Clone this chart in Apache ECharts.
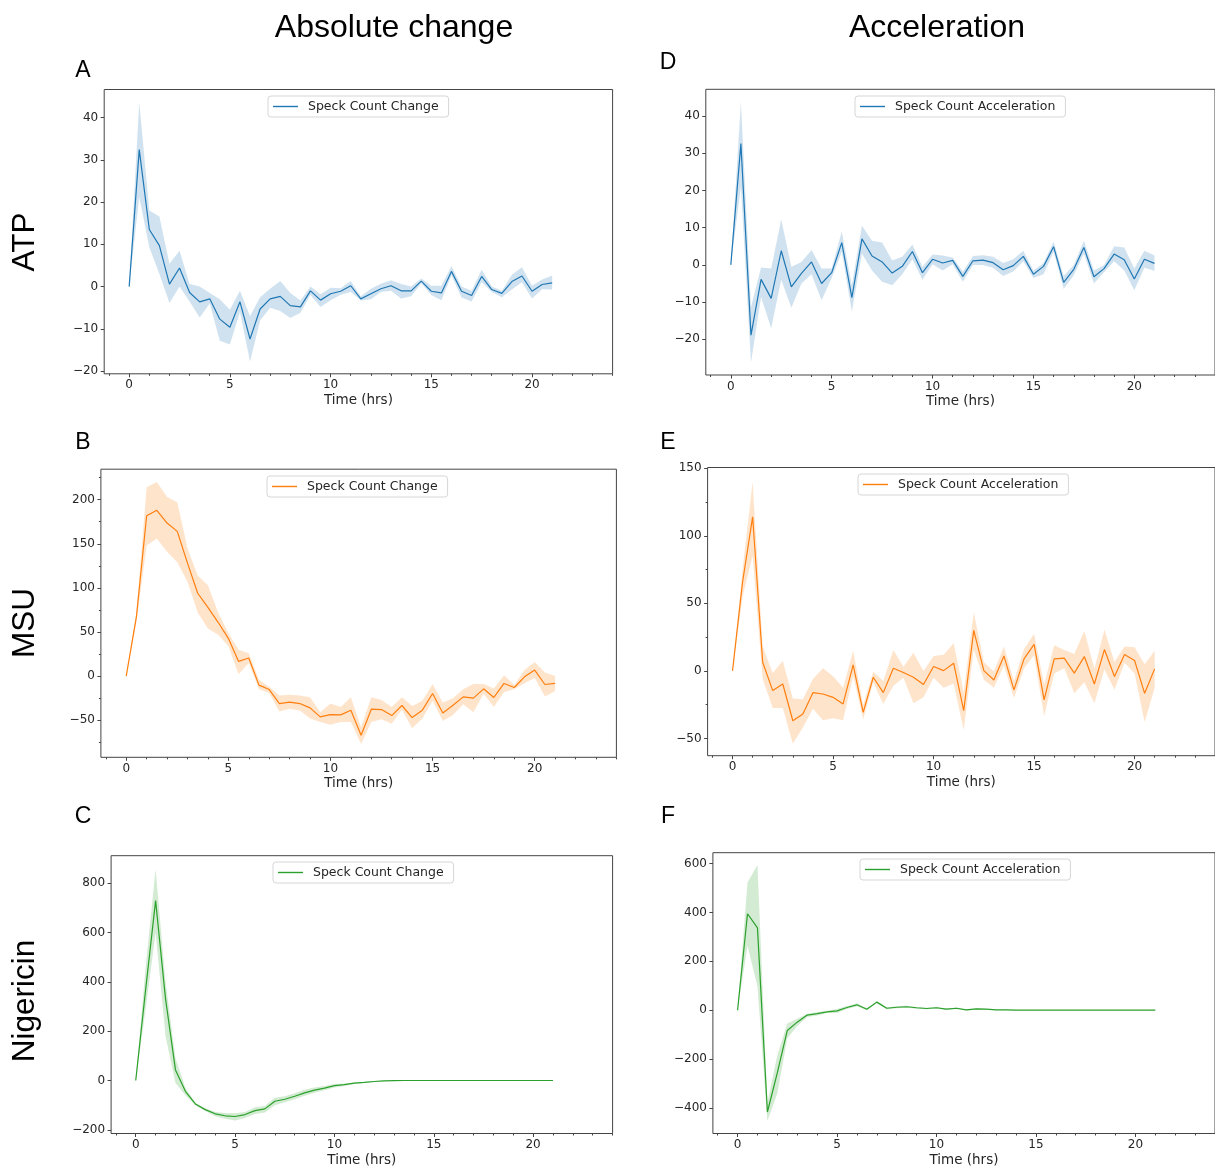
<!DOCTYPE html>
<html>
<head>
<meta charset="utf-8">
<script src="https://cdn.jsdelivr.net/npm/echarts@6/dist/echarts.min.js"></script>
<style>
  html, body { margin: 0; padding: 0; background: #fff; }
  #chart { width: 1215px; height: 1168px; }
</style>
</head>
<body>
<div id="chart"></div>
<script>
// time points (hrs)
const hours = [0, 0.5, 1, 1.5, 2, 2.5, 3, 3.5, 4, 4.5, 5, 5.5, 6, 6.5, 7, 7.5, 8, 8.5, 9, 9.5, 10,
  10.5, 11, 11.5, 12, 12.5, 13, 13.5, 14, 14.5, 15, 15.5, 16, 16.5, 17, 17.5, 18, 18.5, 19, 19.5, 20, 20.5, 21]

// A - ATP, absolute change
const atpChange = [0, 32.4, 13.5, 9.7, 0.6, 4.4, -1.4, -3.6, -2.9, -7.7, -9.6, -3.6, -12.4, -5.3, -2.9, -2.3, -4.5, -4.8, -1.0, -3.2, -1.7,
  -1.1, 0.2, -2.9, -1.7, -0.5, 0.2, -1.0, -1.0, 1.3, -1.1, -1.5, 3.6, -1.1, -2.1, 2.4, -0.7, -1.6, 1.2, 2.5, -1.1, 0.5, 0.9]
const atpChangeUpper = [0, 43.6, 18.0, 16.6, 5.4, 8.5, 0.6, 0.0, -1.5, -3.0, -5.5, -1.0, -7.0, -2.5, -0.5, 1.3, -1.5, -3.3, 0.0, -1.8, -0.3,
  -0.4, 1.3, -2.3, -0.5, 0.7, 1.5, 0.6, 0.0, 1.9, 0.2, 0.2, 4.8, 0.0, -1.0, 4.0, 0.0, -1.0, 2.8, 4.6, 0.2, 1.7, 2.6]
const atpChangeLower = [0, 21.2, 9.3, 3.0, -3.9, 0.0, -3.5, -7.3, -4.0, -12.8, -13.7, -6.0, -17.7, -8.0, -5.0, -5.8, -7.4, -6.2, -2.0, -4.8, -3.2,
  -1.9, -1.3, -3.3, -3.0, -1.3, -1.0, -2.8, -2.3, 0.8, -2.0, -3.2, 2.6, -2.6, -3.5, 1.0, -1.3, -2.5, -0.7, 1.0, -2.8, -0.6, -0.7]

// D - ATP, acceleration
const atpAccel = [0, 32.6, -18.9, -3.9, -9.0, 3.8, -5.9, -2.3, 0.8, -5.0, -2.1, 6.0, -8.8, 7.0, 2.4, 0.8, -2.2, -0.4, 3.6, -2.1, 1.5,
  0.5, 1.2, -3.1, 1.1, 1.3, 0.6, -1.3, -0.2, 2.3, -2.5, -0.4, 4.9, -4.7, -1.2, 4.7, -3.2, -1.0, 2.9, 1.4, -3.8, 1.5, 0.4]
const atpAccelUpper = [0, 43.8, -11.3, -0.7, -1.0, 12.2, -0.5, 0.8, 4.0, -1.0, -1.0, 9.0, -5.5, 10.5, 6.5, 6.0, 1.2, 2.2, 5.5, -0.5, 2.8,
  2.5, 2.0, -1.8, 2.4, 2.6, 2.2, 0.5, 1.5, 3.8, -1.5, 0.5, 6.2, -3.0, 0.0, 6.5, -1.5, 0.0, 5.0, 4.7, -1.0, 3.8, 2.5]
const atpAccelLower = [0, 21.0, -26.3, -8.6, -17.0, -4.0, -11.5, -5.0, -2.5, -9.5, -3.5, 3.5, -12.5, 3.0, -1.5, -4.5, -5.5, -2.5, 1.5, -4.0, 0.2,
  -1.5, 0.2, -4.5, 0.0, 0.0, -0.8, -3.0, -1.8, 1.0, -3.5, -2.5, 3.5, -6.5, -2.8, 3.0, -5.0, -2.0, 1.0, -1.5, -6.8, -0.8, -1.6]

// B - MSU, absolute change
const msuChange = [0, 67.4, 181.8, 187.9, 173.5, 164.0, 128.0, 93.9, 78.0, 61.0, 42.8, 16.7, 20.5, -10.2, -15.2, -31.1, -29.5, -31.1, -36.0, -46.2, -43.6,
  -43.9, -38.6, -67.0, -37.5, -37.9, -44.7, -33.3, -47.0, -38.6, -19.7, -41.7, -33.0, -23.5, -25.0, -14.4, -24.2, -8.3, -12.9, -0.8, 6.8, -9.5, -8.3]
const msuChangeUpper = [0, 72, 214, 220, 203, 197, 145, 114, 103, 72, 49, 30, 26, -4, -12, -22, -21, -22, -24, -41, -31,
  -35, -24, -58, -24, -27, -35, -24, -34, -28, -9, -30, -25, -15, -9, -9, -14, 1, -10, 7, 16, 4, 0]
const msuChangeLower = [0, 62, 148, 156, 141, 129, 107, 72, 54, 47, 34, 2, 15, -15, -19, -40, -37, -39, -48, -52, -55,
  -52, -52, -77, -52, -49, -54, -38, -59, -48, -28, -51, -44, -32, -41, -20, -35, -18, -15, -8, -2, -23, -17]

// E - MSU, acceleration
const msuAccel = [0, 65.8, 114.1, 6.4, -14.6, -9.7, -36.9, -31.9, -16.1, -17.1, -19.6, -24.5, 4.5, -30.7, -4.7, -16.1, 2.0, -1.2, -4.7, -10.1, 3.2,
  0.2, 5.7, -29.5, 30.0, 0.2, -6.7, 11.1, -14.1, 8.9, 19.6, -21.5, 8.9, 9.4, -1.7, 10.6, -9.7, 15.8, -4.2, 12.1, 7.7, -16.6, 1.5]
const msuAccelUpper = [0, 75, 140, 18, -1.5, 7.5, -20.5, -21, -6, 2, -4, -12.5, 15, -25.5, -0.5, -7.5, 15.5, 3, 13.5, 0, 11,
  12, 20.5, -16, 43.5, 6.5, -0.5, 18, -7.5, 16, 27.5, -10, 19, 15.5, 12.5, 29.5, 1.5, 30.5, 6.5, 18, 17.5, 5, 15]
const msuAccelLower = [0, 55, 85, -6, -27.5, -27.5, -54, -42, -28, -36.5, -35, -36.5, -4, -36, -8.5, -24.5, -11, -5, -24, -19.5, -5,
  -12.5, -9.5, -44, 16, -6.5, -12.5, 4, -20, 2, 11.5, -33.5, -2, 2, -16.5, -8.5, -24, 1, -14, 6, -2, -38, -12.5]

// C - Nigericin, absolute change
const nigChange = [0, 370, 729, 331, 43, -44, -95, -118, -135, -143, -146, -138, -122, -115, -84, -76, -64, -50, -39, -31, -21,
  -17, -11, -8, -4, -1.5, -0.5, 0, 0, 0, 0, 0, 0, 0, 0, 0, 0, 0, 0, 0, 0, 0, 0]
const nigChangeUpper = [0, 460, 856, 400, 90, -30, -90, -112, -128, -132, -133, -128, -108, -103, -70, -64, -52, -38, -28, -22, -14,
  -12, -8, -6, -2, -0.5, 0, 0, 0, 0, 0, 0, 0, 0, 0, 0, 0, 0, 0, 0, 0, 0, 0]
const nigChangeLower = [0, 290, 600, 180, -10, -60, -100, -124, -145, -155, -162, -152, -136, -130, -100, -88, -76, -62, -50, -40, -28,
  -22, -14, -10, -6, -2.5, -1, 0, 0, 0, 0, 0, 0, 0, 0, 0, 0, 0, 0, 0, 0, 0, 0]

// F - Nigericin, acceleration
const nigAccel = [0, 395, 337, -417, -256, -83, -49, -20, -14, -7, -3, 11, 22, 4, 33, 8, 12, 14, 10, 7, 10,
  4, 8, 1, 5, 4, 1, 1, 0.5, 0, 0, 0, 0, 0, 0, 0, 0, 0, 0, 0, 0, 0, 0]
const nigAccelUpper = [0, 523, 595, -379, -185, -55, -35, -15, -8, -2, 5, 17, 28, 8, 38, 12, 16, 18, 13, 10, 13,
  7, 11, 3, 7, 5, 2, 2, 1, 0.5, 0.5, 0, 0, 0, 0, 0, 0, 0, 0, 0, 0, 0, 0]
const nigAccelLower = [0, 264, 98, -454, -340, -115, -65, -28, -22, -12, -12, 5, 16, 0, 28, 4, 8, 10, 6, 4, 6,
  1, 5, -1, 3, 2, 0, 0, 0, -0.5, -0.5, 0, 0, 0, 0, 0, 0, 0, 0, 0, 0, 0, 0]

// tick labels
const xTicks = [0, 5, 10, 15, 20]
const xMinorTicks = [-1, 1, 2, 3, 4, 6, 7, 8, 9, 11, 12, 13, 14, 16, 17, 18, 19, 21, 22, 23, 24]
const atpTicks = [-20, -10, 0, 10, 20, 30, 40]
const msuChangeTicks = [-50, 0, 50, 100, 150, 200]
const msuChangeMinor = [-75, -25, 25, 75, 125, 175, 225]
const msuAccelTicks = [-50, 0, 50, 100, 150]
const msuAccelMinor = [-25, 25, 75, 125]
const nigChangeTicks = [-200, 0, 200, 400, 600, 800]
const nigAccelTicks = [-400, -200, 0, 200, 400, 600]

const BLUE = '#1f77b4'
const ORANGE = '#ff7f0e'
const GREEN = '#2ca02c'
const TICK_FONT = 'DejaVu Sans'
const TITLE_FONT = 'Liberation Sans'

const panels = [
  { key: 'A', label: 'Speck Count Change', color: BLUE, line: atpChange, upper: atpChangeUpper, lower: atpChangeLower,
    grid: { left: 104.2, top: 89.5, width: 508.4, height: 284.3 }, yMin: -20.63, yMax: 46.63,
    yTicks: atpTicks, yMinor: [], legend: { left: 268, top: 96 } },
  { key: 'D', label: 'Speck Count Acceleration', color: BLUE, line: atpAccel, upper: atpAccelUpper, lower: atpAccelLower,
    grid: { left: 705.8, top: 89.3, width: 510.5, height: 285.7 }, yMin: -29.6, yMax: 47.2,
    yTicks: atpTicks, yMinor: [], legend: { left: 855, top: 96 } },
  { key: 'B', label: 'Speck Count Change', color: ORANGE, line: msuChange, upper: msuChangeUpper, lower: msuChangeLower,
    grid: { left: 100.9, top: 469.2, width: 515.5, height: 288.1 }, yMin: -92, yMax: 234.5,
    yTicks: msuChangeTicks, yMinor: msuChangeMinor, legend: { left: 267, top: 476 } },
  { key: 'E', label: 'Speck Count Acceleration', color: ORANGE, line: msuAccel, upper: msuAccelUpper, lower: msuAccelLower,
    grid: { left: 707.6, top: 467.5, width: 514.7, height: 288.2 }, yMin: -62.8, yMax: 150.6,
    yTicks: msuAccelTicks, yMinor: msuAccelMinor, legend: { left: 858, top: 474 } },
  { key: 'C', label: 'Speck Count Change', color: GREEN, line: nigChange, upper: nigChangeUpper, lower: nigChangeLower,
    grid: { left: 111.1, top: 855.7, width: 501.5, height: 280 }, yMin: -214.8, yMax: 911,
    yTicks: nigChangeTicks, yMinor: [], legend: { left: 273, top: 862 } },
  { key: 'F', label: 'Speck Count Acceleration', color: GREEN, line: nigAccel, upper: nigAccelUpper, lower: nigAccelLower,
    grid: { left: 712.9, top: 852.7, width: 503.7, height: 281.3 }, yMin: -505, yMax: 645,
    yTicks: nigAccelTicks, yMinor: [], legend: { left: 860, top: 859 } },
]

const minus = (v) => String(v).replace('-', '\u2212')
const pairs = (ys) => hours.map((t, i) => [t, ys[i]])
const labelText = {}
panels.forEach(p => { labelText[p.key] = p.label })

const grids = []
const xAxes = []
const yAxes = []
const series = []
const legends = []
const tickLine = { color: '#444', width: 1 }

panels.forEach((p, i) => {
  grids.push(Object.assign({ show: true, borderColor: '#444', borderWidth: 1, backgroundColor: 'transparent' }, p.grid))

  // main x axis + minor tick axis
  xAxes.push({
    type: 'value', gridIndex: i, min: -1.24, max: 24, position: 'bottom',
    axisLine: { show: false, onZero: false },
    splitLine: { show: false },
    axisTick: { customValues: xTicks, length: 3.5, lineStyle: tickLine },
    axisLabel: { customValues: xTicks, formatter: minus, margin: 5.5, fontSize: 12, fontFamily: TICK_FONT, color: '#262626' },
    name: 'Time (hrs)', nameLocation: 'middle', nameGap: 19.5,
    nameTextStyle: { fontSize: 13.5, fontFamily: TICK_FONT, color: '#262626' },
  })
  xAxes.push({
    type: 'value', gridIndex: i, min: -1.24, max: 24, position: 'bottom',
    axisLine: { show: false, onZero: false }, splitLine: { show: false }, axisLabel: { show: false },
    axisTick: { customValues: xMinorTicks, length: 2, lineStyle: tickLine },
  })

  // main y axis + minor tick axis
  yAxes.push({
    type: 'value', gridIndex: i, min: p.yMin, max: p.yMax, position: 'left',
    axisLine: { show: false, onZero: false },
    splitLine: { show: false },
    axisTick: { customValues: p.yTicks, length: 3.5, lineStyle: tickLine },
    axisLabel: { customValues: p.yTicks, formatter: minus, margin: 6, fontSize: 12, fontFamily: TICK_FONT, color: '#262626' },
  })
  yAxes.push({
    type: 'value', gridIndex: i, min: p.yMin, max: p.yMax, position: 'left',
    axisLine: { show: false, onZero: false }, splitLine: { show: false }, axisLabel: { show: false },
    axisTick: p.yMinor.length
      ? { customValues: p.yMinor, length: 2, lineStyle: tickLine }
      : { show: false },
  })

  const ax = 2 * i
  // shaded band between lower and upper, mapped through the axes
  series.push({
    type: 'custom', name: p.key + '_band', xAxisIndex: ax, yAxisIndex: ax, silent: true, z: 1,
    data: [[0, 0]],
    renderItem: (params, api) => {
      const pts = hours.map((t, k) => api.coord([t, p.upper[k]]))
      for (let k = hours.length - 1; k >= 0; k--) pts.push(api.coord([hours[k], p.lower[k]]))
      return { type: 'polygon', shape: { points: pts }, style: { fill: p.color, opacity: 0.21 } }
    },
  })
  series.push({
    type: 'line', name: p.key, xAxisIndex: ax, yAxisIndex: ax,
    data: pairs(p.line), symbol: 'none', silent: true,
    lineStyle: { color: p.color, width: 1.2 }, itemStyle: { color: p.color }, z: 3,
  })

  legends.push({
    data: [p.key], left: p.legend.left, top: p.legend.top,
    formatter: (name) => labelText[name],
    selectedMode: false,
    icon: 'rect', itemWidth: 25, itemHeight: 1.4,
    padding: [4, 10, 4, 5],
    backgroundColor: '#fff', borderColor: '#d6d6d6', borderWidth: 1, borderRadius: 3,
    textStyle: { fontSize: 12.5, fontFamily: TICK_FONT, color: '#262626', padding: [0, 0, 0, 5] },
  })
})

const text = (str, x, y, size, rotation) => ({
  type: 'text', x: x, y: y, rotation: rotation || 0, silent: true,
  style: {
    text: str, fontSize: size, fontFamily: TITLE_FONT, fill: '#000',
    align: 'center', verticalAlign: 'middle', textAlign: 'center', textVerticalAlign: 'middle',
  },
})

const graphics = [
  text('Absolute change', 394, 28.5, 32),
  text('Acceleration', 937, 28.5, 32),
  text('A', 83, 71, 23),
  text('D', 668, 63, 23),
  text('B', 83, 443, 23),
  text('E', 668, 443, 23),
  text('C', 83, 817, 23),
  text('F', 668, 817, 23),
  text('ATP', 25, 242, 31.5, Math.PI / 2),
  text('MSU', 25, 623, 31.5, Math.PI / 2),
  text('Nigericin', 25, 1001, 31.5, Math.PI / 2),
]

const myChart = echarts.init(document.getElementById('chart'))
myChart.setOption({
  animation: false,
  backgroundColor: '#fff',
  grid: grids,
  xAxis: xAxes,
  yAxis: yAxes,
  legend: legends,
  series: series,
  graphic: graphics,
})
</script>
</body>
</html>
